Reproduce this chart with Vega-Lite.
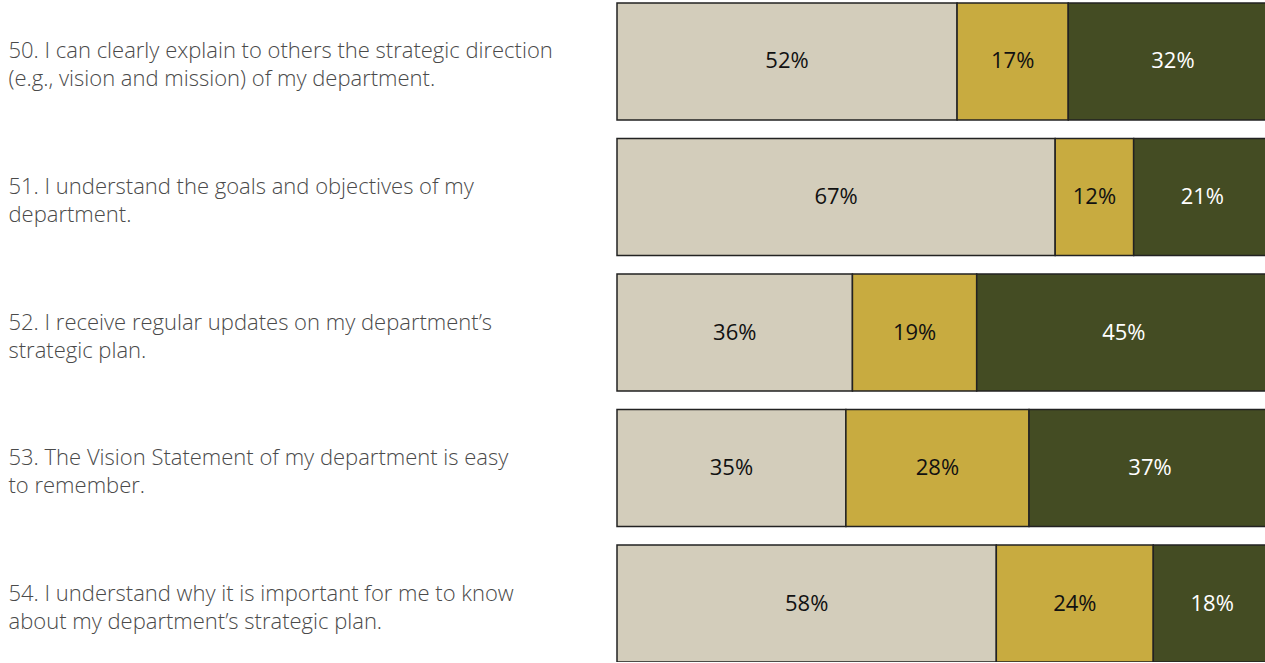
{
  "$schema": "https://vega.github.io/schema/vega-lite/v6.json",
  "autosize": "none",
  "padding": {"left": 617, "top": 3, "right": 0, "bottom": 0},
  "width": 654,
  "height": 659,
  "background": "white",
  "config": {"view": {"stroke": null}},
  "data": {
    "values": [
      {"q": "50. I can clearly explain to others the strategic direction|(e.g., vision and mission) of my department.", "cat": "A", "k": 1, "value": 52, "label": "52%"},
      {"q": "50. I can clearly explain to others the strategic direction|(e.g., vision and mission) of my department.", "cat": "B", "k": 2, "value": 17, "label": "17%"},
      {"q": "50. I can clearly explain to others the strategic direction|(e.g., vision and mission) of my department.", "cat": "C", "k": 3, "value": 32, "label": "32%"},
      {"q": "51. I understand the goals and objectives of my|department.", "cat": "A", "k": 1, "value": 67, "label": "67%"},
      {"q": "51. I understand the goals and objectives of my|department.", "cat": "B", "k": 2, "value": 12, "label": "12%"},
      {"q": "51. I understand the goals and objectives of my|department.", "cat": "C", "k": 3, "value": 21, "label": "21%"},
      {"q": "52. I receive regular updates on my department’s|strategic plan.", "cat": "A", "k": 1, "value": 36, "label": "36%"},
      {"q": "52. I receive regular updates on my department’s|strategic plan.", "cat": "B", "k": 2, "value": 19, "label": "19%"},
      {"q": "52. I receive regular updates on my department’s|strategic plan.", "cat": "C", "k": 3, "value": 45, "label": "45%"},
      {"q": "53. The Vision Statement of my department is easy|to remember.", "cat": "A", "k": 1, "value": 35, "label": "35%"},
      {"q": "53. The Vision Statement of my department is easy|to remember.", "cat": "B", "k": 2, "value": 28, "label": "28%"},
      {"q": "53. The Vision Statement of my department is easy|to remember.", "cat": "C", "k": 3, "value": 37, "label": "37%"},
      {"q": "54. I understand why it is important for me to know|about my department’s strategic plan.", "cat": "A", "k": 1, "value": 58, "label": "58%"},
      {"q": "54. I understand why it is important for me to know|about my department’s strategic plan.", "cat": "B", "k": 2, "value": 24, "label": "24%"},
      {"q": "54. I understand why it is important for me to know|about my department’s strategic plan.", "cat": "C", "k": 3, "value": 18, "label": "18%"}
    ]
  },
  "encoding": {
    "y": {
      "field": "q",
      "type": "nominal",
      "sort": null,
      "title": null,
      "scale": {"paddingInner": 0.137, "paddingOuter": 0},
      "axis": {
        "domain": false,
        "ticks": false,
        "tickSize": 0,
        "labelAlign": "left",
        "labelBaseline": "middle",
        "labelPadding": 609,
        "labelLimit": 0,
        "labelOffset": -10,
        "labelFont": "Open Sans",
        "labelFontSize": 22,
        "labelFontWeight": 300,
        "labelColor": "#4a4a4a",
        "labelLineHeight": 28,
        "labelExpr": "split(datum.label, '|')"
      }
    },
    "x": {
      "field": "value",
      "type": "quantitative",
      "stack": "zero",
      "scale": {"domain": [0, 100], "nice": false, "zero": true},
      "axis": null
    },
    "order": {"field": "k", "type": "quantitative"}
  },
  "layer": [
    {
      "mark": {"type": "bar", "stroke": "#222222", "strokeWidth": 1.5},
      "encoding": {
        "color": {
          "field": "cat",
          "type": "nominal",
          "scale": {"domain": ["A", "B", "C"], "range": ["#d3cdbb", "#c8ab40", "#444c23"]},
          "legend": null
        }
      }
    },
    {
      "mark": {"type": "text", "font": "Open Sans", "fontSize": 22, "baseline": "middle", "align": "center"},
      "encoding": {
        "x": {"field": "value", "type": "quantitative", "stack": "zero", "bandPosition": 0.5},
        "text": {"field": "label", "type": "nominal"},
        "color": {
          "condition": {"test": "datum.cat === 'C'", "value": "#ffffff"},
          "value": "#111111"
        }
      }
    }
  ]
}
